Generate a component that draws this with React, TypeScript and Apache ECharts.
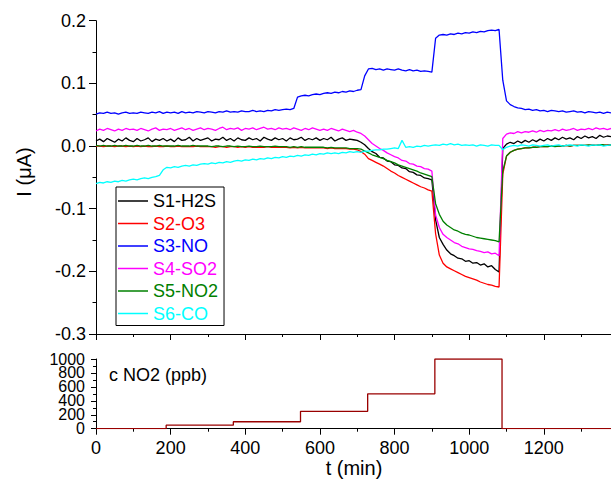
import { useEffect, useRef } from "react";
import * as echarts from "echarts";

// time grid (min)
const T = [
  0, 10, 20, 30, 40, 50, 60, 70, 80, 90,
  100, 110, 120, 130, 140, 150, 160, 170, 180, 190,
  200, 210, 220, 230, 240, 250, 260, 270, 280, 290,
  300, 310, 320, 330, 340, 350, 360, 370, 380, 390,
  400, 410, 420, 430, 440, 450, 460, 470, 480, 490,
  500, 510, 520, 530, 540, 550, 560, 570, 580, 590,
  600, 610, 620, 630, 640, 650, 660, 670, 680, 690,
  700, 710, 720, 730, 740, 750, 760, 770, 780, 790,
  800, 810, 820, 830, 840, 850, 860, 870, 880, 890,
  900, 910, 920, 930, 940, 950, 960, 970, 980, 990,
  1000, 1010, 1020, 1030, 1040, 1050, 1060, 1070, 1080, 1090,
  1100, 1110, 1120, 1130, 1140, 1150, 1160, 1170, 1180, 1190,
  1200, 1210, 1220, 1230, 1240, 1250, 1260, 1270, 1280, 1290,
  1300, 1310, 1320, 1330, 1340, 1350, 1360, 1370, 1380,
];

const S1_H2S = [
  0.008, 0.011, 0.007, 0.012, 0.009, 0.006, 0.011, 0.008, 0.013, 0.009,
  0.007, 0.012, 0.008, 0.010, 0.013, 0.007, 0.011, 0.009, 0.012, 0.008,
  0.011, 0.007, 0.013, 0.009, 0.010, 0.014, 0.008, 0.012, 0.009, 0.011,
  0.013, 0.008, 0.011, 0.010, 0.014, 0.009, 0.012, 0.008, 0.013, 0.010,
  0.009, 0.013, 0.010, 0.012, 0.008, 0.014, 0.011, 0.009, 0.013, 0.010,
  0.012, 0.008, 0.013, 0.010, 0.011, 0.014, 0.009, 0.012, 0.010, 0.013,
  0.009, 0.012, 0.010, 0.014, 0.008, 0.011, 0.013, 0.009, 0.011, 0.010,
  0.009, 0.006, 0.002, -0.004, -0.009, -0.012, -0.018, -0.019, -0.024, -0.025,
  -0.030, -0.031, -0.035, -0.036, -0.041, -0.042, -0.046, -0.047, -0.051, -0.052,
  -0.054, -0.118, -0.146, -0.157, -0.166, -0.172, -0.175, -0.179, -0.180, -0.184,
  -0.183, -0.187, -0.186, -0.190, -0.188, -0.193, -0.191, -0.197, -0.201, -0.004,
  0.003, 0.006, 0.004, 0.008, 0.005, 0.009, 0.006, 0.010, 0.007, 0.011,
  0.008, 0.012, 0.009, 0.013, 0.010, 0.014, 0.011, 0.013, 0.010, 0.015,
  0.012, 0.016, 0.013, 0.015, 0.012, 0.017, 0.014, 0.016, 0.015,
];

const S2_O3 = [
  0.000, 0.000, -0.001, 0.000, 0.000, -0.001, 0.000, 0.000, -0.001, 0.000,
  -0.001, 0.000, -0.001, 0.000, -0.001, -0.001, 0.000, -0.001, -0.001, 0.000,
  -0.001, -0.001, 0.000, -0.001, -0.001, -0.001, -0.001, 0.000, -0.001, -0.001,
  -0.001, -0.001, -0.002, -0.001, -0.001, -0.002, -0.001, -0.001, -0.002, -0.001,
  -0.002, -0.001, -0.002, -0.002, -0.002, -0.002, -0.001, -0.002, -0.002, -0.002,
  -0.002, -0.002, -0.003, -0.002, -0.003, -0.002, -0.003, -0.003, -0.003, -0.003,
  -0.003, -0.003, -0.004, -0.003, -0.004, -0.004, -0.004, -0.004, -0.005, -0.005,
  -0.006, -0.009, -0.013, -0.020, -0.023, -0.026, -0.029, -0.032, -0.036, -0.040,
  -0.043, -0.047, -0.050, -0.053, -0.056, -0.059, -0.062, -0.065, -0.067, -0.070,
  -0.072, -0.140, -0.174, -0.187, -0.193, -0.196, -0.199, -0.202, -0.205, -0.208,
  -0.210, -0.212, -0.214, -0.217, -0.219, -0.221, -0.222, -0.224, -0.225, -0.045,
  -0.016, -0.010, -0.007, -0.005, -0.004, -0.003, -0.003, -0.002, -0.002, -0.001,
  -0.001, -0.001, 0.000, 0.000, 0.000, 0.000, 0.001, 0.000, 0.001, 0.001,
  0.001, 0.001, 0.001, 0.002, 0.001, 0.002, 0.001, 0.002, 0.002,
];

const S3_NO = [
  0.051, 0.053, 0.052, 0.054, 0.052, 0.053, 0.051, 0.053, 0.054, 0.052,
  0.053, 0.052, 0.054, 0.053, 0.052, 0.054, 0.053, 0.055, 0.052, 0.054,
  0.053, 0.054, 0.052, 0.055, 0.053, 0.054, 0.053, 0.055, 0.054, 0.053,
  0.055, 0.054, 0.053, 0.055, 0.054, 0.056, 0.054, 0.055, 0.054, 0.056,
  0.055, 0.055, 0.057, 0.055, 0.056, 0.055, 0.057, 0.056, 0.058, 0.057,
  0.058, 0.059, 0.058, 0.060, 0.078, 0.080, 0.081, 0.080, 0.082, 0.083,
  0.082, 0.084, 0.085, 0.084, 0.086, 0.085, 0.087, 0.086, 0.088, 0.087,
  0.089, 0.090, 0.112, 0.123, 0.124, 0.122, 0.123, 0.121, 0.123, 0.122,
  0.121, 0.123, 0.121, 0.120, 0.122, 0.120, 0.121, 0.119, 0.120, 0.119,
  0.118, 0.172, 0.177, 0.178, 0.177, 0.179, 0.178, 0.180, 0.179, 0.181,
  0.180, 0.182, 0.181, 0.183, 0.182, 0.184, 0.185, 0.184, 0.186, 0.105,
  0.072, 0.066, 0.063, 0.061, 0.060, 0.058, 0.059, 0.057, 0.058, 0.056,
  0.057, 0.055, 0.057, 0.056, 0.055, 0.056, 0.054, 0.055, 0.056, 0.054,
  0.055, 0.053, 0.055, 0.054, 0.053, 0.054, 0.052, 0.054, 0.053,
];

const S4_SO2 = [
  0.024, 0.027, 0.025, 0.028, 0.026, 0.024, 0.027, 0.025, 0.028, 0.026,
  0.027, 0.025, 0.028, 0.026, 0.024, 0.027, 0.029, 0.025, 0.027, 0.026,
  0.028, 0.025, 0.027, 0.029, 0.026, 0.028, 0.025, 0.027, 0.029, 0.026,
  0.028, 0.027, 0.025, 0.028, 0.030, 0.026, 0.028, 0.027, 0.029, 0.025,
  0.028, 0.027, 0.029, 0.026, 0.028, 0.030, 0.027, 0.028, 0.026, 0.029,
  0.027, 0.028, 0.026, 0.029, 0.027, 0.025, 0.028, 0.026, 0.029, 0.027,
  0.025, 0.027, 0.025, 0.028, 0.026, 0.024, 0.027, 0.025, 0.023, 0.025,
  0.022, 0.020, 0.016, 0.010, 0.004, 0.000, -0.004, -0.007, -0.011, -0.014,
  -0.017, -0.019, -0.023, -0.024, -0.028, -0.029, -0.032, -0.033, -0.036, -0.037,
  -0.040, -0.110, -0.130, -0.141, -0.146, -0.150, -0.154, -0.156, -0.160, -0.162,
  -0.164, -0.165, -0.167, -0.168, -0.170, -0.169, -0.172, -0.171, -0.175, 0.012,
  0.019, 0.021, 0.020, 0.023, 0.021, 0.023, 0.022, 0.024, 0.022, 0.025,
  0.023, 0.025, 0.024, 0.026, 0.024, 0.027, 0.025, 0.026, 0.028, 0.025,
  0.027, 0.026, 0.028, 0.026, 0.029, 0.027, 0.028, 0.026, 0.028,
];

const S5_NO2 = [
  0.001, 0.000, 0.001, 0.000, 0.000, 0.001, 0.000, 0.000, 0.001, 0.000,
  0.000, 0.001, 0.000, 0.000, 0.001, 0.000, 0.000, 0.001, 0.000, 0.000,
  0.000, 0.000, 0.001, 0.000, 0.000, 0.000, 0.001, 0.000, 0.000, 0.000,
  0.000, -0.001, 0.000, 0.000, -0.001, 0.000, 0.000, -0.001, 0.000, -0.001,
  -0.001, 0.000, -0.001, -0.001, 0.000, -0.001, -0.001, -0.001, 0.000, -0.001,
  -0.001, -0.001, -0.002, -0.001, -0.002, -0.001, -0.002, -0.002, -0.002, -0.002,
  -0.002, -0.002, -0.003, -0.002, -0.003, -0.003, -0.003, -0.003, -0.004, -0.004,
  -0.004, -0.005, -0.008, -0.011, -0.014, -0.016, -0.018, -0.020, -0.023, -0.025,
  -0.027, -0.030, -0.032, -0.034, -0.036, -0.038, -0.040, -0.043, -0.045, -0.047,
  -0.049, -0.092, -0.109, -0.120, -0.126, -0.130, -0.134, -0.136, -0.139, -0.141,
  -0.142, -0.144, -0.146, -0.147, -0.148, -0.149, -0.150, -0.151, -0.153, -0.040,
  -0.016, -0.010, -0.007, -0.005, -0.004, -0.003, -0.003, -0.002, -0.002, -0.001,
  -0.001, -0.001, 0.000, -0.001, 0.000, 0.000, 0.001, 0.000, 0.001, 0.001,
  0.001, 0.001, 0.002, 0.001, 0.001, 0.002, 0.002, 0.001, 0.002,
];

const S6_CO = [
  -0.060, -0.058, -0.059, -0.057, -0.058, -0.056, -0.057, -0.055, -0.056, -0.054,
  -0.053, -0.054, -0.052, -0.051, -0.052, -0.050, -0.049, -0.047, -0.038, -0.034,
  -0.035, -0.033, -0.034, -0.032, -0.031, -0.032, -0.030, -0.031, -0.029, -0.028,
  -0.029, -0.027, -0.028, -0.026, -0.027, -0.025, -0.026, -0.024, -0.023, -0.024,
  -0.022, -0.023, -0.021, -0.022, -0.020, -0.021, -0.019, -0.020, -0.018, -0.019,
  -0.017, -0.018, -0.016, -0.017, -0.015, -0.016, -0.014, -0.015, -0.013, -0.014,
  -0.012, -0.013, -0.011, -0.012, -0.011, -0.012, -0.010, -0.011, -0.009, -0.010,
  -0.009, -0.010, -0.008, -0.008, -0.007, -0.006, -0.006, -0.005, -0.005, -0.004,
  -0.003, -0.004, 0.009, -0.002, -0.001, -0.002, 0.000, -0.001, 0.001, 0.000,
  0.001, 0.002, 0.001, 0.003, 0.002, 0.004, 0.002, 0.003, 0.001, 0.002,
  0.001, 0.002, 0.000, 0.002, 0.001, 0.000, 0.002, 0.001, 0.001, -0.006,
  -0.002, 0.000, 0.001, 0.000, 0.002, 0.001, 0.000, 0.002, 0.001, 0.000,
  0.001, 0.002, 0.000, 0.001, 0.002, 0.000, 0.001, 0.002, 0.001, 0.000,
  0.002, 0.001, 0.000, 0.002, 0.001, 0.002, 0.000, 0.001, 0.002,
];

const SERIES_NAMES = ["S1-H2S", "S2-O3", "S3-NO", "S4-SO2", "S5-NO2", "S6-CO"];
const SERIES_VALUES = [S1_H2S, S2_O3, S3_NO, S4_SO2, S5_NO2, S6_CO];
const SERIES_COLORS = ["#000000", "#ff0000", "#0000ff", "#ff00ff", "#008000", "#00ffff"];

// NO2 concentration steps: value holds from this time onwards
const NO2_TIMES = [0, 188, 368, 548, 728, 908, 1088, 1380];
const NO2_PPB = [0, 50, 100, 250, 500, 1000, 0, 0];
// tick labels of the concentration axis
const PPB_TICKS = [0, 200, 400, 600, 800, 1000];

const FONT = "'Liberation Sans', Arial, Helvetica, sans-serif";

export default function App() {
  const ref = useRef<HTMLDivElement>(null);

  useEffect(() => {
    if (!ref.current) return;
    const chart = echarts.init(ref.current, null, { renderer: "svg" });

    const axisCommon = {
      type: "value" as const,
      axisLine: { show: true, onZero: false, lineStyle: { color: "#000", width: 1 } },
      splitLine: { show: false },
    };

    const baseGraphics: any[] = [
      {
        id: "ytitle",
        type: "text",
        x: 24,
        y: 172,
        rotation: Math.PI / 2,
        style: {
          text: "I (μA)",
          fontFamily: FONT,
          fontSize: 20,
          fill: "#000",
          align: "center",
          verticalAlign: "middle",
        },
      },
      {
        id: "xtitle",
        type: "text",
        x: 354,
        y: 468,
        style: {
          text: "t (min)",
          fontFamily: FONT,
          fontSize: 20,
          fill: "#000",
          align: "center",
          verticalAlign: "middle",
        },
      },
      {
        id: "ctitle",
        type: "text",
        x: 109,
        y: 375,
        style: {
          text: "c NO2 (ppb)",
          fontFamily: FONT,
          fontSize: 18,
          fill: "#000",
          align: "left",
          verticalAlign: "middle",
        },
      },
    ];

    const option: any = {
      animation: false,
      backgroundColor: "#fff",
      grid: [
        { left: 96, top: 20.7, right: 0, height: 313.3 },
        { left: 96, top: 359, right: 0, height: 69.7 },
      ],
      legend: {
        show: true,
        orient: "vertical",
        left: 116,
        top: 187,
        padding: [5, 6, 3, 2],
        itemGap: 4.5,
        itemWidth: 30,
        itemHeight: 1.5,
        icon: "rect",
        borderColor: "#000",
        borderWidth: 1,
        backgroundColor: "#fff",
        selectedMode: false,
        textStyle: { fontFamily: FONT, fontSize: 18 },
        data: SERIES_NAMES.map((n, i) => ({
          name: n,
          textStyle: { color: SERIES_COLORS[i], fontFamily: FONT, fontSize: 18 },
        })),
      },
      xAxis: [
        {
          ...axisCommon,
          gridIndex: 0,
          min: 0,
          max: 1380,
          interval: 200,
          axisTick: { show: true, length: 6, lineStyle: { color: "#000" } },
          minorTick: { show: true, splitNumber: 2, length: 3, lineStyle: { color: "#000" } },
          axisLabel: { show: false },
        },
        {
          ...axisCommon,
          gridIndex: 1,
          min: 0,
          max: 1380,
          interval: 200,
          axisTick: { show: true, length: 6, lineStyle: { color: "#000" } },
          minorTick: { show: true, splitNumber: 2, length: 3, lineStyle: { color: "#000" } },
          axisLabel: {
            show: true,
            color: "#000",
            fontFamily: FONT,
            fontSize: 18,
            margin: 10,
            showMaxLabel: false,
            formatter: (v: number) => String(Math.round(v)),
          },
        },
      ],
      yAxis: [
        {
          ...axisCommon,
          gridIndex: 0,
          min: -0.3,
          max: 0.2,
          interval: 0.1,
          axisTick: { show: true, length: 7, lineStyle: { color: "#000" } },
          minorTick: { show: true, splitNumber: 2, length: 3.5, lineStyle: { color: "#000" } },
          axisLabel: {
            color: "#000",
            fontFamily: FONT,
            fontSize: 18,
            margin: 10,
            formatter: (v: number) => (Math.abs(v) < 1e-9 ? "0.0" : v.toFixed(1)),
          },
        },
        {
          ...axisCommon,
          gridIndex: 1,
          min: 0,
          max: 1000,
          interval: 200,
          axisTick: { show: true, length: 5, lineStyle: { color: "#000" } },
          minorTick: { show: true, splitNumber: 2, length: 3, lineStyle: { color: "#000" } },
          // labels drawn below as texts placed through the axis scale (tightly stacked)
          axisLabel: { show: false },
        },
      ],
      series: [
        ...SERIES_NAMES.map((name, si) => ({
          name,
          type: "line",
          xAxisIndex: 0,
          yAxisIndex: 0,
          showSymbol: false,
          symbol: "none",
          color: SERIES_COLORS[si],
          lineStyle: { width: 1.3, color: SERIES_COLORS[si] },
          data: T.map((t, i) => [t, SERIES_VALUES[si][i]]),
          z: 2,
        })),
        {
          name: "c NO2",
          type: "line",
          xAxisIndex: 1,
          yAxisIndex: 1,
          step: "end",
          showSymbol: false,
          symbol: "none",
          color: "#990000",
          lineStyle: { width: 1.3, color: "#990000" },
          data: NO2_TIMES.map((t, i) => [t, NO2_PPB[i]]),
        },
      ],
      graphic: baseGraphics,
    };

    chart.setOption(option);

    const tickLabels = PPB_TICKS.map((v) => {
      const p = chart.convertToPixel({ gridIndex: 1 }, [0, v]) as number[];
      return {
        id: "ppb" + v,
        type: "text",
        x: p[0] - 11,
        y: p[1],
        style: {
          text: String(v),
          fontFamily: FONT,
          fontSize: 16,
          lineHeight: 13,
          fill: "#000",
          align: "right",
          verticalAlign: "middle",
        },
      };
    });
    chart.setOption({ graphic: [...baseGraphics, ...tickLabels] });

    return () => chart.dispose();
  }, []);

  return (
    <div
      ref={ref}
      style={{ position: "fixed", left: 0, top: 0, width: 611, height: 484, background: "#fff" }}
    />
  );
}
